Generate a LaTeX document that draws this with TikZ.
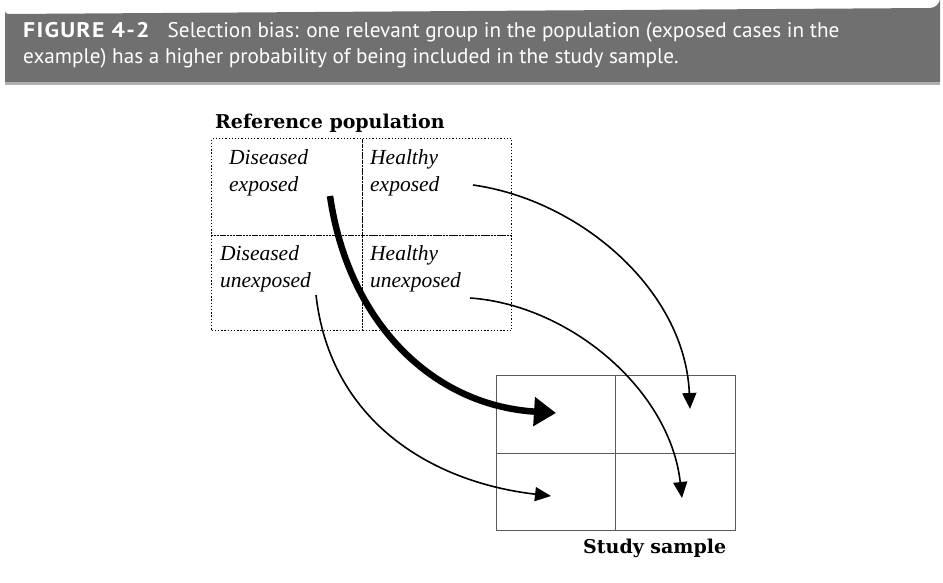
\documentclass[tikz,border=0pt]{standalone}
\usepackage{fontspec}
\setmainfont{Liberation Serif}
\newfontfamily\hdrfont{PT Sans}
\newfontfamily\hdrbold[FakeStretch=1.12,LetterSpace=6]{PT Sans Bold}
\newfontfamily\ttlfont{DejaVu Serif}
\usetikzlibrary{arrows.meta,positioning}
\definecolor{barcol}{HTML}{707070}
\definecolor{gridcol}{HTML}{5A5A5A}
\newcommand{\twoline}[2]{\begin{tabular}[t]{@{}l@{}}#1\\#2\end{tabular}}
\tikzset{
  popcell/.style={draw=black, line width=1.3pt, dash pattern=on 1.3pt off 1.9pt, inner sep=0pt, anchor=north west},
  smpcell/.style={draw=gridcol, line width=1pt, inner sep=0pt, anchor=north west},
  lbl/.style={font=\fontsize{21.5}{27}\selectfont\itshape, inner sep=0pt, anchor=base west},
  ttl/.style={font=\ttlfont\bfseries\fontsize{19}{24}\selectfont, inner sep=0pt, anchor=base west},
  thinarr/.style={line width=1.6pt, -{Triangle[length=16pt,width=14pt]}},
  thickarr/.style={line width=6.5pt, -{Triangle[length=22pt,width=28pt]}},
  hdr/.style={font=\hdrfont\fontsize{21.2}{26}\selectfont, text=white, inner sep=0pt, anchor=base west}
}
\begin{document}
\begin{tikzpicture}[x=1pt,y=-1pt]
\useasboundingbox (0,0) rectangle (943,583);
% header bar
\fill[barcol!55!white] (5,80) rectangle (940,85);
\fill[barcol] (5,82) -- (5,11) arc[start angle=180,end angle=90,radius=3] -- (930,8) arc[start angle=90,end angle=0,radius=10] -- (940,82) -- cycle;
\node[hdr] (h1) at (23,38) {{\hdrbold FIGURE 4-2}\hspace{0.85em}Selection bias: one relevant group in the population (exposed cases in the};
\node[hdr] (h2) at (23,64) {example) has a higher probability of being included in the study sample.};
% reference population
\node[ttl] (rpt) at (215,129) {Reference population};
\node[popcell, minimum width=151pt, minimum height=97pt] (pDE) at (211,138) {};
\node[popcell, minimum width=149pt, minimum height=97pt] (pHE) at (362,138) {};
\node[popcell, minimum width=151pt, minimum height=95pt] (pDU) at (211,235) {};
\node[popcell, minimum width=149pt, minimum height=95pt] (pHU) at (362,235) {};
\node[lbl] (tDE) at (229,165) {\twoline{Diseased}{exposed}};
\node[lbl] (tHE) at (370,165) {\twoline{Healthy}{exposed}};
\node[lbl] (tDU) at (220,260) {\twoline{Diseased}{unexposed}};
\node[lbl] (tHU) at (370,260) {\twoline{Healthy}{unexposed}};
% study sample
\node[smpcell, minimum width=119pt, minimum height=78pt] (sDE) at (496,375) {};
\node[smpcell, minimum width=120pt, minimum height=78pt] (sHE) at (615,375) {};
\node[smpcell, minimum width=119pt, minimum height=77pt] (sDU) at (496,453) {};
\node[smpcell, minimum width=120pt, minimum height=77pt] (sHU) at (615,453) {};
\node[ttl] (sst) at (583,553) {Study sample};
% arrow end points
\coordinate (a1s) at (330,196);
\coordinate (a1e) at (556,413);
\coordinate (a2s) at (473,185);
\coordinate (a2e) at (690,409);
\coordinate (a3s) at (470,298);
\coordinate (a3e) at (682,498);
\coordinate (a4s) at (316,295);
\coordinate (a4e) at (551,496);
\draw[thickarr] (a1s) .. controls (348,320) and (430,405) .. (a1e);
\draw[thinarr] (a2s) .. controls (580,200) and (685,290) .. (a2e);
\draw[thinarr] (a3s) .. controls (570,305) and (670,390) .. (a3e);
\draw[thinarr] (a4s) .. controls (330,420) and (430,482) .. (a4e);
\end{tikzpicture}
\end{document}
